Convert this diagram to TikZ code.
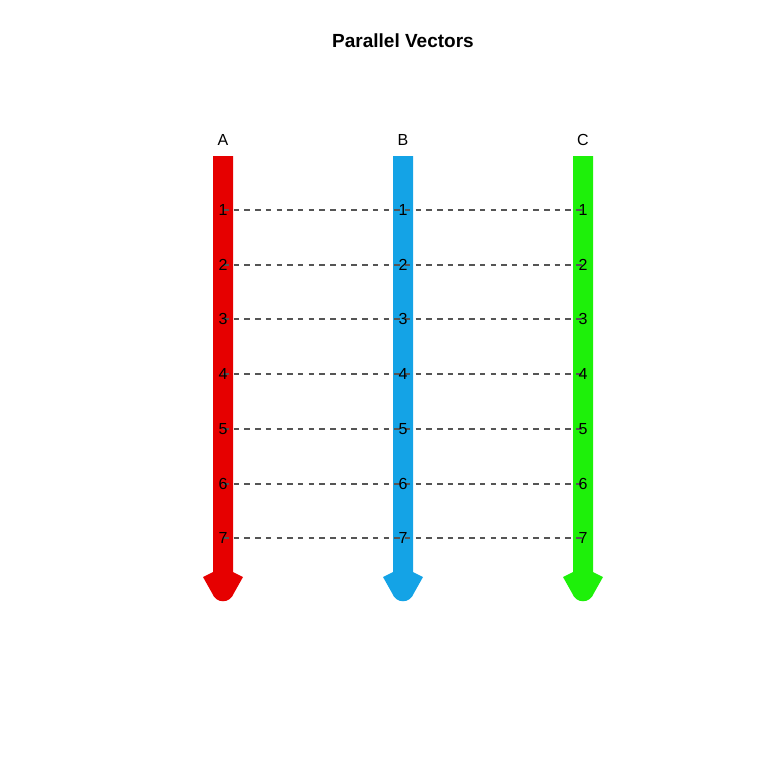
\documentclass[tikz,border=0pt]{standalone}
\usepackage{fontspec}
\setmainfont{Liberation Sans}
\definecolor{cA}{HTML}{E60000}
\definecolor{cB}{HTML}{14A3E6}
\definecolor{cC}{HTML}{1EF00A}
\definecolor{dashgray}{HTML}{555555}
\begin{document}
\begin{tikzpicture}[x=1pt,y=-1pt,
  lbl/.style={inner sep=0pt,font=\fontsize{16}{16}\selectfont},
  ttl/.style={inner sep=0pt,font=\fontsize{19}{19}\selectfont\bfseries},
  guide/.style={dashgray,line width=1.1pt,dash pattern=on 5.5pt off 5.2pt}]
\useasboundingbox (0,0) rectangle (768,768);
\node[ttl] (title) at (403,41) {Parallel Vectors};
\foreach \n/\x in {A/223,B/403,C/583}{
  \fill[c\n] (\x-10,156) -- (\x+10,156) -- (\x+10,572) -- (\x+20,577)
     -- (\x+11,593) .. controls (\x+7,604) and (\x-7,604) .. (\x-11,593)
     -- (\x-20,577) -- (\x-10,572) -- cycle;
  \node[lbl] (head\n) at (\x,140) {\n};
  \foreach \k/\y in {1/210,2/265,3/319,4/374,5/429,6/484,7/538}{
    \coordinate (p\n\k) at (\x,\y);
  }
}
\foreach \k in {1,...,7}{
  \draw[guide] (pA\k) -- (pB\k) -- (pC\k);
}
\foreach \n in {A,B,C}{
  \foreach \k in {1,...,7}{
    \node[lbl] (num\n\k) at (p\n\k) {\k};
  }
}
\end{tikzpicture}
\end{document}
